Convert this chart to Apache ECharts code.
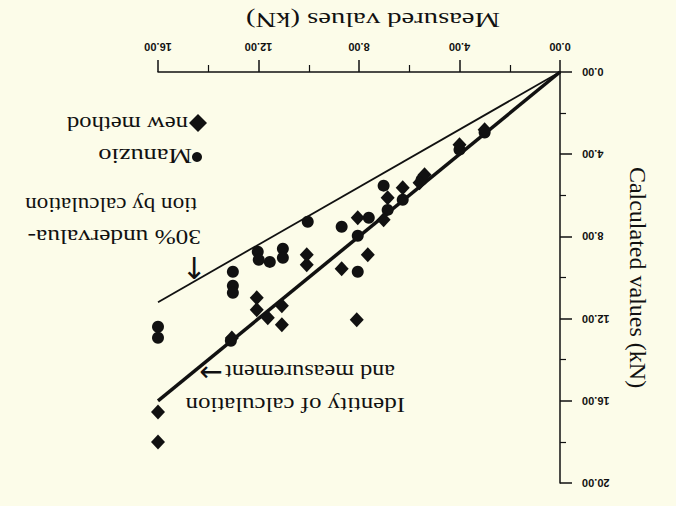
<!DOCTYPE html>
<html>
<head>
<meta charset="utf-8">
<script src="https://cdn.jsdelivr.net/npm/echarts@6/dist/echarts.min.js"></script>
<style>
  html, body { margin: 0; padding: 0; background: #fcfce9; }
  #chart { width: 676px; height: 506px; }
</style>
</head>
<body>
<div id="chart"></div>
<script>
// Figure is shown rotated by 180 degrees (as in the scanned reference)
const xTicks = [0, 4, 8, 12, 16];
const yTicks = [0, 4, 8, 12, 16, 20];

const measuredManuzio   = [3.00, 4.00, 5.51, 6.26, 7.02, 6.86, 7.61, 8.05, 8.69, 10.04, 8.05, 11.03, 11.03, 11.55, 12.03, 11.99, 13.02, 13.02, 13.02, 13.10, 16.00, 16.00];
const calculatedManuzio = [2.95, 3.78, 5.24, 6.22, 5.53, 6.71, 7.09, 7.97, 7.53, 7.29, 9.72, 8.60, 9.04, 9.24, 8.75, 9.14, 9.72, 10.40, 10.74, 13.08, 12.40, 12.93];

const measuredNew   = [3.00, 4.00, 5.39, 5.59, 6.26, 6.86, 7.02, 8.05, 7.65, 8.69, 10.08, 10.08, 12.07, 12.07, 11.63, 11.07, 11.07, 8.09, 13.06, 16.00, 16.00];
const calculatedNew = [2.81, 3.54, 5.00, 5.39, 5.63, 6.12, 7.19, 7.09, 8.89, 9.57, 8.89, 9.38, 10.99, 11.57, 11.96, 11.37, 12.30, 12.06, 12.94, 16.54, 18.00];

const refLineX      = [0, 16];
const identityY     = [0, 16];   // calculation = measurement
const underval30Y   = [0, 11.2]; // calculation = 0.7 * measurement

const zip = (a, b) => a.map((v, i) => [v, b[i]]);

const chart = echarts.init(document.getElementById('chart'), null, { renderer: 'svg' });

const serif = '"Liberation Serif", "Times New Roman", serif';
const arrowFont = '"DejaVu Sans", sans-serif';
const ink = '#111';

function upsideText(text, x, y, size, sx, align) {
  return { type: 'text', x: x, y: y, rotation: Math.PI, scaleX: sx,
    style: { text: text, font: size + 'px ' + serif, fill: ink, align: align || 'left', verticalAlign: 'middle' } };
}

chart.setOption({
  backgroundColor: '#fcfce9',
  animation: false,
  grid: { left: 158, right: 116, top: 72, bottom: 23 },
  xAxis: {
    type: 'value', min: 0, max: 16, interval: 4, inverse: true, position: 'top',
    axisLine: { show: true, lineStyle: { color: ink, width: 1.5 } },
    axisTick: { show: true, length: 12, lineStyle: { color: ink, width: 1.5 } },
    minorTick: { show: true, splitNumber: 2, length: 7, lineStyle: { color: ink, width: 1.2 } },
    splitLine: { show: false },
    axisLabel: { rotate: 180, margin: 20, fontFamily: '"Liberation Sans", Arial, sans-serif', fontWeight: 'bold', fontSize: 11, color: ink,
      formatter: v => v.toFixed(2) }
  },
  yAxis: {
    type: 'value', min: 0, max: 20, interval: 4, inverse: true, position: 'right',
    name: 'Calculated values (kN)', nameLocation: 'middle', nameGap: 66, nameRotate: -90,
    nameTextStyle: { fontFamily: serif, fontSize: 24, color: ink },
    axisLine: { show: true, lineStyle: { color: ink, width: 1.5 } },
    axisTick: { show: true, length: 12, lineStyle: { color: ink, width: 1.5 } },
    minorTick: { show: true, splitNumber: 2, length: 6, lineStyle: { color: ink, width: 1.2 } },
    splitLine: { show: false },
    axisLabel: { rotate: 180, margin: 22, fontFamily: '"Liberation Sans", Arial, sans-serif', fontWeight: 'bold', fontSize: 11, color: ink,
      formatter: v => v.toFixed(2) }
  },
  series: [
    { name: '30% undervaluation', type: 'line', data: zip(refLineX, underval30Y), showSymbol: false, silent: true,
      lineStyle: { color: ink, width: 1.8 }, z: 1 },
    { name: 'Identity', type: 'line', data: zip(refLineX, identityY), showSymbol: false, silent: true,
      lineStyle: { color: ink, width: 3.5 }, z: 1 },
    { name: 'Manuzio', type: 'scatter', data: zip(measuredManuzio, calculatedManuzio), symbol: 'circle', symbolSize: 12,
      itemStyle: { color: ink, opacity: 1 }, clip: false, z: 3 },
    { name: 'new method', type: 'scatter', data: zip(measuredNew, calculatedNew), symbol: 'diamond', symbolSize: [14, 15],
      itemStyle: { color: ink, opacity: 1 }, clip: false, z: 4 }
  ],
  graphic: [
    // x-axis title (upside down, as in the scanned figure)
    upsideText('Measured values (kN)', 373, 20, 22, 1.3, 'center'),
    // legend (upside down)
    { type: 'polygon', shape: { points: [[198, 114], [207, 123], [198, 132], [189, 123]] }, style: { fill: ink } },
    upsideText('new method', 188, 125, 22, 1.12),
    { type: 'circle', shape: { cx: 197, cy: 157, r: 5 }, style: { fill: ink } },
    upsideText('Manuzio', 192, 157, 22, 1.2),
    // 30% undervaluation annotation
    upsideText('tion by calculation', 197, 205, 22, 1.05),
    upsideText('30% undervalua-', 201, 237, 22, 1.15),
    { type: 'text', x: 194, y: 268,
      style: { text: '↓', font: '30px ' + arrowFont, fill: ink, align: 'center', verticalAlign: 'middle' } },
    // identity annotation
    upsideText('and measurement', 395, 373, 22, 1.1),
    { type: 'text', x: 211, y: 371,
      style: { text: '←', font: '28px ' + arrowFont, fill: ink, align: 'center', verticalAlign: 'middle' } },
    upsideText('Identity of calculation', 405, 405, 22, 1.13)
  ]
});
</script>
</body>
</html>
